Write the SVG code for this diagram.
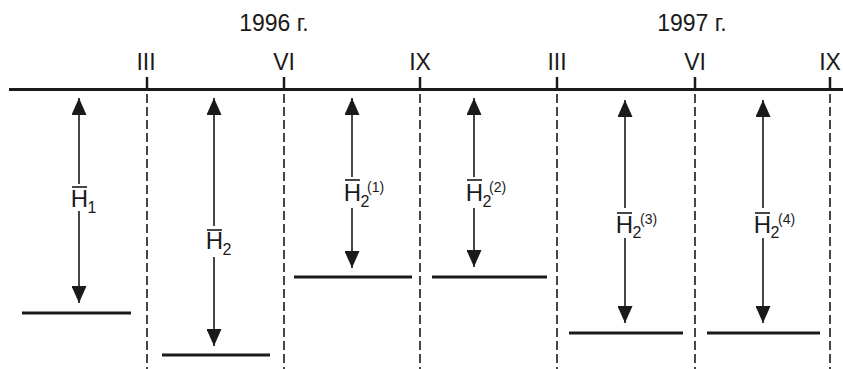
<svg xmlns="http://www.w3.org/2000/svg" width="843" height="369" viewBox="0 0 843 369">
<defs>
<marker id="ah" markerUnits="userSpaceOnUse" markerWidth="17" markerHeight="15" viewBox="0 0 17 15" refX="17" refY="7.5" orient="auto-start-reverse">
<path d="M0,0 L17,7.5 L0,15 Z" fill="#1a1a1a"/>
</marker>
</defs>
<style>
text{font-family:"Liberation Sans",Arial,Helvetica,sans-serif;fill:#1a1a1a}
.yr{font-size:23px;text-anchor:middle}
.mo{font-size:23px;text-anchor:middle}
.h{font-size:24px;text-anchor:middle}
.sub{font-size:16px}
.sup{font-size:14px}
.axis{stroke:#1a1a1a;stroke-width:3;fill:none}
.tick{stroke:#1a1a1a;stroke-width:2.5}
.dash{stroke:#1a1a1a;stroke-width:1.6;stroke-dasharray:9 4}
.lvl{stroke:#1a1a1a;stroke-width:3}
.arr{stroke:#1a1a1a;stroke-width:1.6}
.bar{stroke:#1a1a1a;stroke-width:1.6}
</style>
<g id="axis">
<line class="axis" x1="9" y1="89.5" x2="843" y2="89.5"/>
<text class="yr" x="274" y="31">1996 г.</text>
<text class="yr" x="692" y="31">1997 г.</text>
<text class="mo" x="146" y="70">III</text>
<text class="mo" x="284" y="70">VI</text>
<text class="mo" x="420" y="70">IX</text>
<text class="mo" x="557" y="70">III</text>
<text class="mo" x="695" y="70">VI</text>
<text class="mo" x="830" y="70">IX</text>
</g>
<g id="connectors">
<g id="ticks">
<line class="tick" x1="147" y1="77" x2="147" y2="91"/>
<line class="tick" x1="284" y1="77" x2="284" y2="91"/>
<line class="tick" x1="420" y1="77" x2="420" y2="91"/>
<line class="tick" x1="557" y1="77" x2="557" y2="91"/>
<line class="tick" x1="695" y1="77" x2="695" y2="91"/>
<line class="tick" x1="830" y1="77" x2="830" y2="91"/>
</g>
<g id="dashes">
<line class="dash" x1="147" y1="94" x2="147" y2="369"/>
<line class="dash" x1="284" y1="94" x2="284" y2="369"/>
<line class="dash" x1="420" y1="94" x2="420" y2="369"/>
<line class="dash" x1="557" y1="94" x2="557" y2="369"/>
<line class="dash" x1="695" y1="94" x2="695" y2="369"/>
<line class="dash" x1="830" y1="94" x2="830" y2="369"/>
</g>
<g id="arrows">
<line class="arr" x1="79" y1="184" x2="79" y2="98" marker-end="url(#ah)"/>
<line class="arr" x1="79" y1="211" x2="79" y2="303" marker-end="url(#ah)"/>
<line class="arr" x1="214" y1="226" x2="214" y2="98" marker-end="url(#ah)"/>
<line class="arr" x1="214" y1="257" x2="214" y2="346" marker-end="url(#ah)"/>
<line class="arr" x1="352" y1="177" x2="352" y2="98" marker-end="url(#ah)"/>
<line class="arr" x1="352" y1="208" x2="352" y2="268" marker-end="url(#ah)"/>
<line class="arr" x1="474" y1="177" x2="474" y2="98" marker-end="url(#ah)"/>
<line class="arr" x1="474" y1="208" x2="474" y2="267" marker-end="url(#ah)"/>
<line class="arr" x1="625" y1="208" x2="625" y2="100" marker-end="url(#ah)"/>
<line class="arr" x1="625" y1="238" x2="625" y2="323" marker-end="url(#ah)"/>
<line class="arr" x1="763" y1="208" x2="763" y2="100" marker-end="url(#ah)"/>
<line class="arr" x1="763" y1="238" x2="763" y2="323" marker-end="url(#ah)"/>
</g>
</g>
<g id="level1">
<line class="lvl" x1="22" y1="313" x2="131" y2="313"/>
<line class="bar" x1="72" y1="187" x2="87" y2="187"/>
<text class="h" x="79.5" y="207">H</text>
<text class="sub" x="87.5" y="213">1</text>
</g>
<g id="level2">
<line class="lvl" x1="162" y1="355" x2="270" y2="355"/>
<line class="bar" x1="207" y1="230" x2="222" y2="230"/>
<text class="h" x="214.5" y="249">H</text>
<text class="sub" x="222.5" y="255">2</text>
</g>
<g id="level2-1">
<line class="lvl" x1="294" y1="277" x2="412" y2="277"/>
<line class="bar" x1="345" y1="180" x2="360" y2="180"/>
<text class="h" x="352.5" y="201">H</text>
<text class="sub" x="360.5" y="207">2</text>
<text class="sup" x="367" y="192">(1)</text>
</g>
<g id="level2-2">
<line class="lvl" x1="432" y1="277" x2="547" y2="277"/>
<line class="bar" x1="467" y1="180" x2="482" y2="180"/>
<text class="h" x="474.5" y="201">H</text>
<text class="sub" x="482.5" y="207">2</text>
<text class="sup" x="489" y="192">(2)</text>
</g>
<g id="level2-3">
<line class="lvl" x1="569" y1="333" x2="683" y2="333"/>
<line class="bar" x1="617" y1="213" x2="632" y2="213"/>
<text class="h" x="624.5" y="233">H</text>
<text class="sub" x="632.5" y="238">2</text>
<text class="sup" x="640" y="224">(3)</text>
</g>
<g id="level2-4">
<line class="lvl" x1="707" y1="333" x2="820" y2="333"/>
<line class="bar" x1="755" y1="213" x2="770" y2="213"/>
<text class="h" x="762.5" y="233">H</text>
<text class="sub" x="770.5" y="238">2</text>
<text class="sup" x="778" y="224">(4)</text>
</g>
</svg>
